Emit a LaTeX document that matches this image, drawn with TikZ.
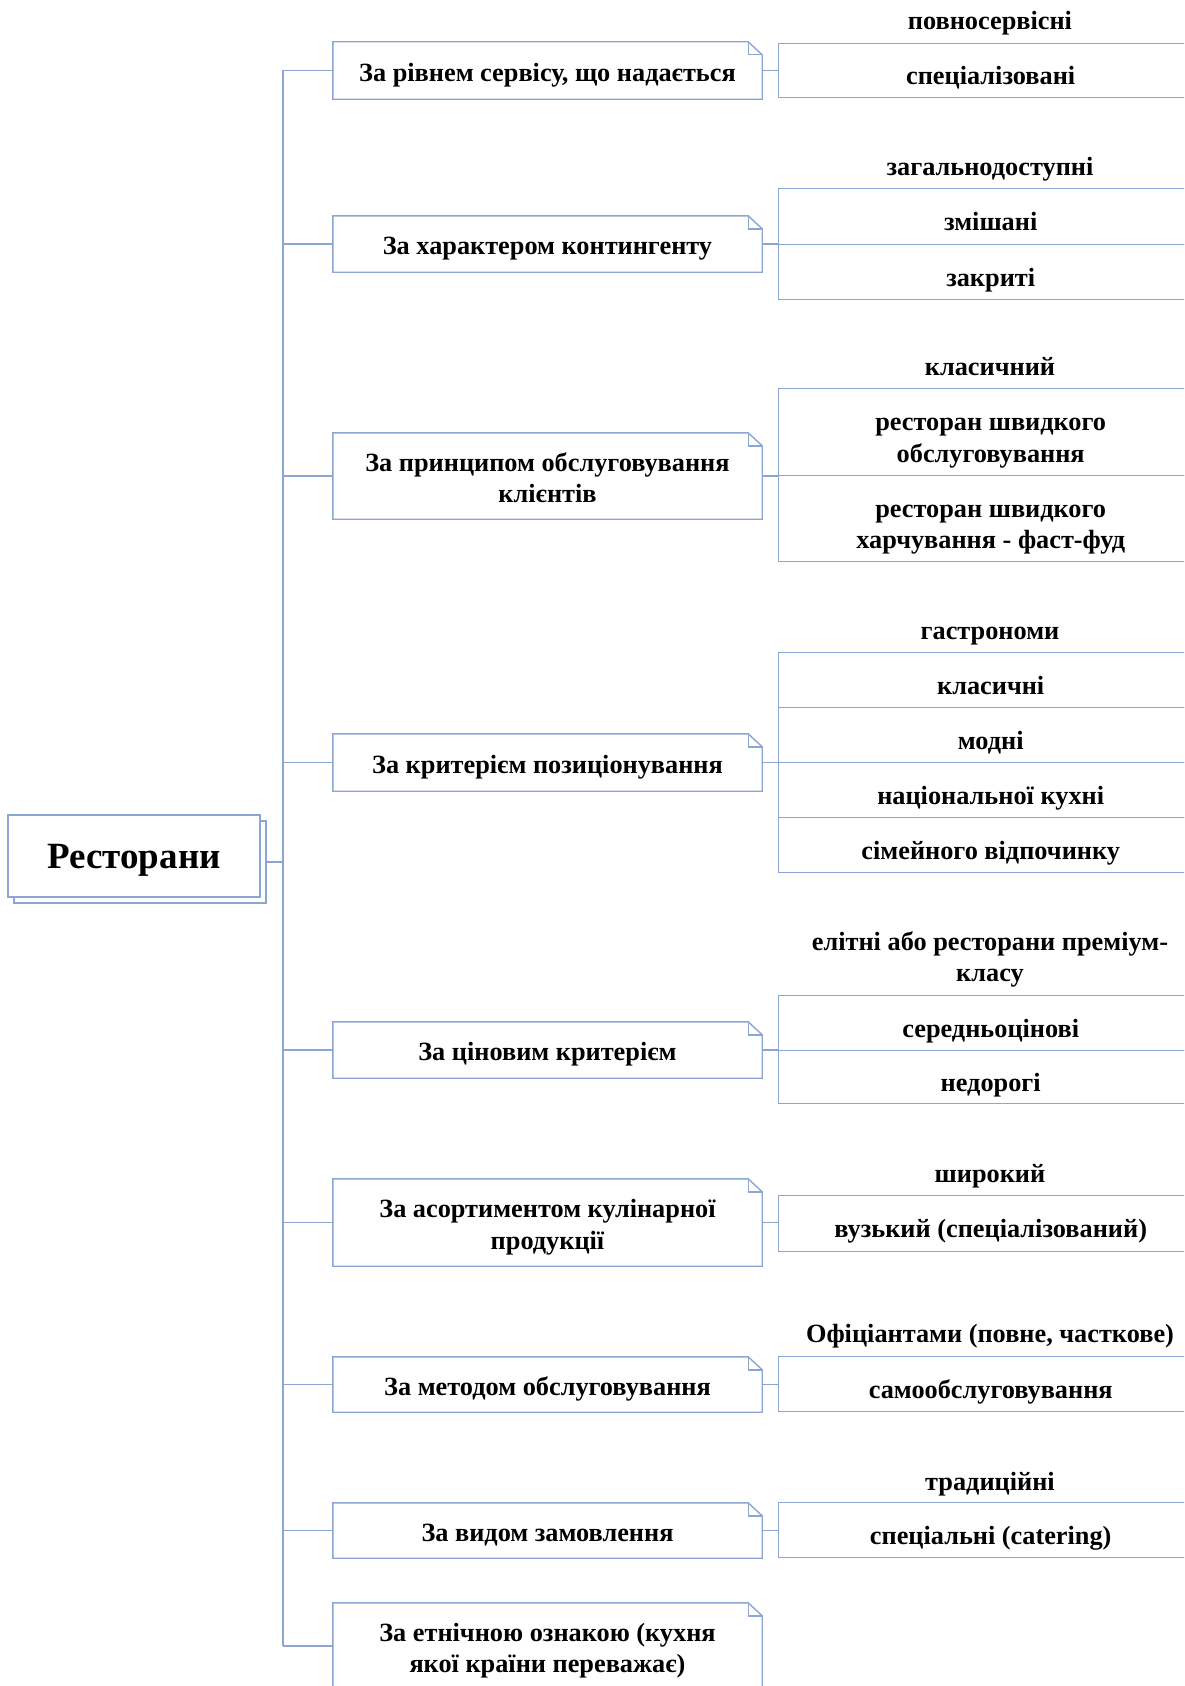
\documentclass[tikz,border=0pt]{standalone}
\usepackage{fontspec}
\setmainfont{Liberation Serif}
\definecolor{edge}{RGB}{140,166,212}
\newcommand\mycatfont{\fontsize{26.3}{31.5}\bfseries\selectfont}
\newcommand\myrootfont{\fontsize{37}{40}\bfseries\selectfont}
% invisible struts that fix where the text sits inside its box
\newcommand\catstrut{\rule{0pt}{28.5pt}}
\newcommand\cellstrut{\rule{0pt}{35.5pt}}
\newcommand\headstrut{\rule{0pt}{25.5pt}}
\newcommand\rootstrut{\rule{0pt}{33pt}}
\newcommand\lowstrut{\rule[-7pt]{0pt}{7pt}}
\newcommand\rootlowstrut{\rule[-8pt]{0pt}{8pt}}
% outline of a category box with a folded top-right corner
\newcommand\dogear[1]{%
  \draw[line] (#1.north west) -- ([xshift=-14pt]#1.north east)
    -- ([yshift=-13pt]#1.north east) -- (#1.south east) -- (#1.south west) -- cycle;
  \draw[line] ([xshift=-14pt]#1.north east) |- ([yshift=-13pt]#1.north east);
}
\begin{document}
\begin{tikzpicture}[x=1pt,y=-1pt,
  line/.style={draw=edge, line width=1.4pt},
  catbox/.style={minimum width=429pt, inner sep=0pt, align=center, font=\mycatfont},
  cell/.style={draw=edge, line width=1.4pt, anchor=north west, minimum width=424pt,
    inner sep=0pt, align=center, font=\mycatfont},
  headtxt/.style={inner sep=0pt, align=center, font=\mycatfont},
  rootbox/.style={draw=edge, line width=1.4pt, fill=white, minimum width=252pt,
    minimum height=82pt, inner sep=0pt, font=\myrootfont},
]
\fill[white] (0,0) rectangle (1184,1686);
\useasboundingbox (0,0) rectangle (1184,1686);
\clip (0,0) rectangle (1184,1686);

% root with a stacked copy behind it
\node[rootbox] (rootbk) at (140,862) {};
\node[rootbox] (root) at (134,856) {\rootstrut Ресторани\rootlowstrut};

% category boxes
\node[catbox, minimum height=57pt] (c1) at (547.5,70.5) {\catstrut За рівнем сервісу, що надається\lowstrut};
\node[catbox, minimum height=56pt] (c2) at (547.5,244) {\catstrut За характером контингенту\lowstrut};
\node[catbox, minimum height=86pt] (c3) at (547.5,476) {\catstrut За принципом обслуговування\\клієнтів\lowstrut};
\node[catbox, minimum height=57pt] (c4) at (547.5,762.5) {\catstrut За критерієм позиціонування\lowstrut};
\node[catbox, minimum height=56pt] (c5) at (547.5,1050) {\catstrut За ціновим критерієм\lowstrut};
\node[catbox, minimum height=87pt] (c6) at (547.5,1222.5) {\catstrut За асортиментом кулінарної\\продукції\lowstrut};
\node[catbox, minimum height=55pt] (c7) at (547.5,1384.5) {\catstrut За методом обслуговування\lowstrut};
\node[catbox, minimum height=55pt] (c8) at (547.5,1530.5) {\catstrut За видом замовлення\lowstrut};
\node[catbox, minimum height=86pt] (c9) at (547.5,1646) {\catstrut За етнічною ознакою (кухня\\якої країни переважає)\lowstrut};
\foreach \c in {c1,c2,c3,c4,c5,c6,c7,c8,c9} {\dogear{\c}}

% trunk and branches
\coordinate (trunk) at (283,0);
\draw[line] (rootbk.east) -- (rootbk.east -| trunk);
\draw[line] (c1.west -| trunk) -- (c9.west -| trunk);
\foreach \c in {c1,c2,c3,c4,c5,c6,c7,c8,c9} {\draw[line] (\c.west -| trunk) -- (\c.west);}

% group 1
\node[headtxt] (g1h) at (990,20.5) {\headstrut повносервісні\lowstrut};
\node[cell, minimum height=54pt] (g1a) at (778,43) {\cellstrut спеціалізовані\lowstrut};
% group 2
\node[headtxt] (g2h) at (990,166.5) {\headstrut загальнодоступні\lowstrut};
\node[cell, minimum height=56pt] (g2a) at (778,188) {\cellstrut змішані\lowstrut};
\node[cell, minimum height=55pt] (g2b) at (778,244) {\cellstrut закриті\lowstrut};
% group 3
\node[headtxt] (g3h) at (990,366.5) {\headstrut класичний\lowstrut};
\node[cell, minimum height=87pt] (g3a) at (778,388) {\cellstrut ресторан швидкого\\обслуговування\lowstrut};
\node[cell, minimum height=86pt] (g3b) at (778,475) {\cellstrut ресторан швидкого\\харчування - фаст-фуд\lowstrut};
% group 4
\node[headtxt] (g4h) at (990,630) {\headstrut гастрономи\lowstrut};
\node[cell, minimum height=55pt] (g4a) at (778,652) {\cellstrut класичні\lowstrut};
\node[cell, minimum height=55pt] (g4b) at (778,707) {\cellstrut модні\lowstrut};
\node[cell, minimum height=55pt] (g4c) at (778,762) {\cellstrut національної кухні\lowstrut};
\node[cell, minimum height=55pt] (g4d) at (778,817) {\cellstrut сімейного відпочинку\lowstrut};
% group 5
\node[headtxt] (g5h) at (990,956.5) {\headstrut елітні або ресторани преміум-\\класу\lowstrut};
\node[cell, minimum height=55pt] (g5a) at (778,995) {\cellstrut середньоцінові\lowstrut};
\node[cell, minimum height=53pt] (g5b) at (778,1050) {\cellstrut недорогі\lowstrut};
% group 6
\node[headtxt] (g6h) at (990,1173) {\headstrut широкий\lowstrut};
\node[cell, minimum height=56pt] (g6a) at (778,1195) {\cellstrut вузький (спеціалізований)\lowstrut};
% group 7
\node[headtxt] (g7h) at (990,1333.5) {\headstrut Офіціантами (повне, часткове)\lowstrut};
\node[cell, minimum height=55pt] (g7a) at (778,1356) {\cellstrut самообслуговування\lowstrut};
% group 8
\node[headtxt] (g8h) at (990,1481) {\headstrut традиційні\lowstrut};
\node[cell, minimum height=55pt] (g8a) at (778,1502) {\cellstrut спеціальні (catering)\lowstrut};

% links from categories to their groups
\draw[line] (c1.east) -- (c1.east -| g1a.west);
\draw[line] (c2.east) -- (c2.east -| g2a.west);
\draw[line] (c3.east) -- (c3.east -| g3a.west);
\draw[line] (c4.east) -- (c4.east -| g4a.west);
\draw[line] (c5.east) -- (c5.east -| g5a.west);
\draw[line] (c6.east) -- (c6.east -| g6a.west);
\draw[line] (c7.east) -- (c7.east -| g7a.west);
\draw[line] (c8.east) -- (c8.east -| g8a.west);
\end{tikzpicture}
\end{document}
